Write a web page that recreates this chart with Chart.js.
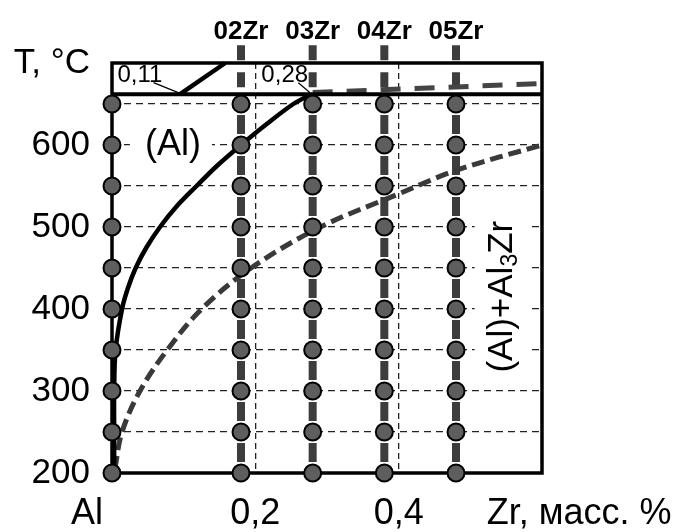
<!DOCTYPE html>
<html>
<head>
<meta charset="utf-8">
<script src="https://cdn.jsdelivr.net/npm/chart.js@4/dist/chart.umd.min.js"></script>
<style>
  html, body { margin: 0; padding: 0; background: #fff; overflow: hidden; }
</style>
</head>
<body>
<canvas id="diagram" width="684" height="532"></canvas>
<script>
// alloys and annealing temperatures (circles)
const alloyNames = ['02Zr', '03Zr', '04Zr', '05Zr']
const alloyZr = [0.18, 0.28, 0.38, 0.48]
const annealT = [200, 250, 300, 350, 400, 450, 500, 550, 600, 650]
const xTickLabels = ['Al     ', '0,2', '0,4', '']

// phase boundaries
const solvusZr = [0.003, 0.003, 0.003, 0.005, 0.014, 0.022, 0.033, 0.048, 0.067, 0.09, 0.118, 0.147, 0.18, 0.215, 0.253, 0.278]
const solvusT = [210, 250, 300, 350, 400, 425, 450, 475, 500, 525, 550, 575, 600, 625, 650, 662]
const metaSolvusZr = [0.004, 0.014, 0.039, 0.077, 0.125, 0.194, 0.291, 0.399, 0.483, 0.6]
const metaSolvusT = [205, 250, 300, 350, 400, 450, 500, 540, 570, 600]
const liquidusZr = [0.095, 0.158]
const liquidusT = [662, 700]
const peritecticZr = [0, 0.6]
const peritecticT = [662, 662]
const metaPeritecticZr = [0.28, 0.6]
const metaPeritecticT = [664, 675]
const pointer011Zr = [0.058, 0.095]
const pointer011T = [676, 663]
const pointer028Zr = [0.26, 0.276]
const pointer028T = [676, 664]
const frameZr = [0, 0, 0.6, 0.6, 0]
const frameT = [200, 700, 700, 200, 200]
const barTopT = [662, 722]

const FONT = 'Liberation Sans'

const line = (xs, ys, style) => ({
    data: xs.map((v, i) => ({ x: v, y: ys[i] })),
    showLine: true, pointRadius: 0, clip: false, fill: false,
    ...style
})

const datasets = []

// circles
const pts = []
for (const zr of [0, ...alloyZr]) for (const t of annealT) pts.push({ x: zr, y: t })
datasets.push({
    data: pts, showLine: false, clip: false, order: 0,
    pointRadius: 8.5, pointBorderWidth: 2,
    pointBackgroundColor: '#5e5e5e', pointBorderColor: '#000'
})

datasets.push(line(solvusZr, solvusT, { borderColor: '#000', borderWidth: 4.5, tension: 0.35, order: 1 }))
datasets.push(line(liquidusZr, liquidusT, { borderColor: '#000', borderWidth: 4.5, order: 1 }))
datasets.push(line(peritecticZr, peritecticT, { borderColor: '#000', borderWidth: 4, order: 1 }))
datasets.push(line(frameZr, frameT, { borderColor: '#000', borderWidth: 3.5, order: 1 }))
datasets.push(line(pointer011Zr, pointer011T, { borderColor: '#000', borderWidth: 1.2, order: 1 }))
datasets.push(line(pointer028Zr, pointer028T, { borderColor: '#000', borderWidth: 1.2, order: 1 }))
datasets.push(line(metaSolvusZr, metaSolvusT, { borderColor: '#3a3a3a', borderWidth: 5, borderDash: [13, 6], tension: 0.35, order: 2 }))
datasets.push(line(metaPeritecticZr, metaPeritecticT, { borderColor: '#444', borderWidth: 5, borderDash: [20, 14], order: 2 }))

// thick grey bars along each alloy column
for (const zr of alloyZr) {
    datasets.push(line([zr, zr], [annealT[0], annealT[annealT.length - 1]],
        { borderColor: '#3d3d3d', borderWidth: 8, borderDash: [19, 22], borderDashOffset: 30, borderCapStyle: 'butt', order: 3 }))
    datasets.push(line([zr, zr], barTopT,
        { borderColor: '#3d3d3d', borderWidth: 8, borderDash: [15, 12], borderDashOffset: 20, borderCapStyle: 'butt', order: 3 }))
}

const labels = {
    id: 'labels',
    beforeDatasetsDraw(chart) {
        const { ctx, scales: { x, y } } = chart
        ctx.save()
        ctx.fillStyle = '#fff'
        // white boxes under the region labels
        ctx.fillRect(x.getPixelForValue(0.025), y.getPixelForValue(600) - 19, 82, 38)
        ctx.fillRect(x.getPixelForValue(0.506), y.getPixelForValue(415) - 82, 57, 164)
        ctx.restore()
    },
    afterDatasetsDraw(chart) {
        const { ctx, scales: { x, y } } = chart
        ctx.save()
        ctx.fillStyle = '#000'
        ctx.textBaseline = 'middle'
        ctx.textAlign = 'center'

        ctx.font = `bold 26px ${FONT}`
        alloyNames.forEach((n, i) => ctx.fillText(n, x.getPixelForValue(alloyZr[i]), y.getPixelForValue(738)))

        ctx.font = `36px ${FONT}`
        ctx.fillText('(Al)', x.getPixelForValue(0.085), y.getPixelForValue(600))

        ctx.font = `24px ${FONT}`
        ctx.fillText('0,11', x.getPixelForValue(0.039), y.getPixelForValue(685))
        ctx.fillText('0,28', x.getPixelForValue(0.241), y.getPixelForValue(685))

        ctx.font = `36px ${FONT}`
        ctx.textAlign = 'left'
        ctx.fillText('Zr, масс. %', x.getPixelForValue(0.523), x.top + 19 + 21.6)

        // rotated (Al)+Al3Zr
        ctx.translate(x.getPixelForValue(0.544), y.getPixelForValue(415))
        ctx.rotate(-Math.PI / 2)
        ctx.font = `35px ${FONT}`
        const w1 = ctx.measureText('(Al)+Al').width
        const w3 = (ctx.font = `23px ${FONT}`, ctx.measureText('3').width)
        ctx.font = `35px ${FONT}`
        const w2 = ctx.measureText('Zr').width
        let cx = -(w1 + w3 + w2) / 2
        ctx.fillText('(Al)+Al', cx, 0)
        cx += w1
        ctx.font = `23px ${FONT}`
        ctx.fillText('3', cx, 9)
        cx += w3
        ctx.font = `35px ${FONT}`
        ctx.fillText('Zr', cx, 0)
        ctx.restore()
    }
}

new Chart(document.getElementById('diagram'), {
    type: 'scatter',
    data: { datasets },
    options: {
        responsive: false,
        animation: false,
        events: [],
        layout: { padding: { top: 63, right: 142, left: 0, bottom: 0 } },
        plugins: { legend: { display: false }, tooltip: { enabled: false } },
        scales: {
            x: {
                min: 0, max: 0.6,
                afterFit: s => { s.height = 59 },
                ticks: {
                    stepSize: 0.2, padding: 19, maxRotation: 0, autoSkip: false,
                    color: '#000', font: { family: FONT, size: 36 },
                    callback: (v, i) => xTickLabels[i]
                },
                grid: {
                    drawTicks: false, lineWidth: 1.3,
                    color: c => (c.index === 1 || c.index === 2) ? '#222' : 'rgba(0,0,0,0)'
                },
                border: { display: false, dash: [6, 4] }
            },
            y: {
                min: 200, max: 700,
                afterFit: s => { s.width = 112 },
                ticks: {
                    stepSize: 50, padding: 22, autoSkip: false,
                    color: '#000', font: { family: FONT, size: 35 },
                    callback: v => v === 700 ? 'T, °C' : (v % 100 === 0 ? String(v) : '')
                },
                grid: {
                    drawTicks: false, lineWidth: 1.3,
                    color: c => (c.tick && c.tick.value > 200 && c.tick.value < 700) ? '#222' : 'rgba(0,0,0,0)'
                },
                border: { display: false, dash: [7, 5] }
            }
        }
    },
    plugins: [labels]
})
</script>
</body>
</html>
